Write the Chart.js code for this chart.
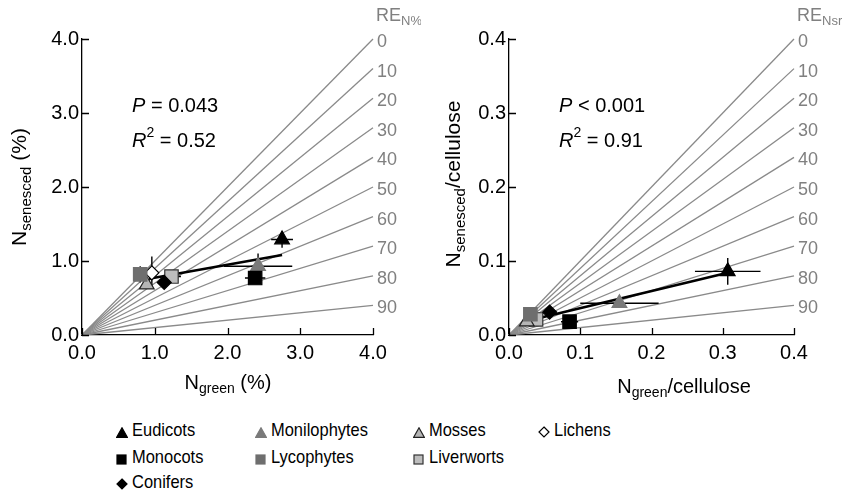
<!DOCTYPE html>
<html>
<head>
<meta charset="utf-8">
<script src="https://cdn.jsdelivr.net/npm/chart.js@4.4.0/dist/chart.umd.min.js"></script>
<style>
  body { margin: 0; background: #fff; width: 842px; height: 492px; position: relative; overflow: hidden;
         font-family: "Liberation Sans", Arial, sans-serif; }
  canvas { position: absolute; top: 0; }
  .lg-mark { position: absolute; }
  .lg-text { position: absolute; font-size: 18.5px; line-height: 20px; color: #000; white-space: nowrap;
             transform: scaleX(0.89); transform-origin: left center; }
</style>
</head>
<body>
<canvas id="pctChart" width="421" height="400" style="left:0"></canvas>
<canvas id="celChart" width="421" height="400" style="left:421px"></canvas>
<div id="legend"></div>
<script>
// Plant groups, in legend order (column by column)
const groups = ["Eudicots", "Monocots", "Conifers", "Monilophytes", "Lycophytes", "Mosses", "Liverworts", "Lichens"];
const reLevels = [0, 10, 20, 30, 40, 50, 60, 70, 80, 90];

// Left panel: N concentration (%)
const nGreenPct       = [2.75, 2.38, 1.13, 2.42, 0.80, 0.89, 1.23, 0.96];
const nSenescedPct    = [1.29, 0.77, 0.71, 0.93, 0.82, 0.68, 0.79, 0.84];
const nGreenPctErr    = [0.15, 0.14, 0.05, 0.47, 0.09, 0.04, 0.13, 0.05];
const nSenescedPctErr = [0.11, 0.04, 0.04, 0.17, 0.11, 0.05, 0.04, 0.22];
const fitPctX = [0.92, 2.75];
const fitPctY = [0.76, 1.08];

// Right panel: N / cellulose
const nGreenCel       = [0.307, 0.085, 0.057, 0.155, 0.030, 0.025, 0.038, 0.032];
const nSenescedCel    = [0.086, 0.018, 0.031, 0.043, 0.028, 0.018, 0.021, 0.025];
const nGreenCelErr    = [0.046, 0.012, 0.006, 0.055, 0.004, 0.003, 0.004, 0.004];
const nSenescedCelErr = [0.018, 0.003, 0.003, 0.004, 0.005, 0.003, 0.003, 0.004];
const fitCelX = [0.025, 0.307];
const fitCelY = [0.019, 0.084];

const FONT = '"Liberation Sans", Arial, sans-serif';

// marker look per group
const markers = [
  { shape: "triangle", r: 8.5, fill: "#000",    stroke: "#000" },
  { shape: "rect",     r: 9.5, fill: "#000",    stroke: "#000" },
  { shape: "rectRot",  r: 7,   fill: "#000",    stroke: "#000" },
  { shape: "triangle", r: 8.5, fill: "#7a7a7a", stroke: "#7a7a7a" },
  { shape: "rect",     r: 9.5, fill: "#6e6e6e", stroke: "#6e6e6e" },
  { shape: "triangle", r: 8.5, fill: "#b5b5b5", stroke: "#222" },
  { shape: "rect",     r: 9.5, fill: "#bdbdbd", stroke: "#333" },
  { shape: "rectRot",  r: 7,   fill: "#fff",    stroke: "#000" }
];

// draw text made of parts: [text, mode] where mode is "", "sub", "sup" or "i"
function drawRich(ctx, parts, x, y, size, align, color) {
  const fontFor = (m) => {
    const s = (m === "sub" || m === "sup") ? Math.round(size * 0.7) : size;
    return (m === "i" ? "italic " : "") + s + "px " + FONT;
  };
  let total = 0;
  parts.forEach(([t, m]) => { ctx.font = fontFor(m); total += ctx.measureText(t).width; });
  let cx = align === "center" ? x - total / 2 : x;
  ctx.save();
  ctx.fillStyle = color;
  ctx.textBaseline = "middle";
  ctx.textAlign = "left";
  parts.forEach(([t, m]) => {
    ctx.font = fontFor(m);
    const dy = m === "sub" ? size * 0.32 : (m === "sup" ? -size * 0.38 : 0);
    ctx.fillText(t, cx, y + dy);
    cx += ctx.measureText(t).width;
  });
  ctx.restore();
}

function makePanel(canvasId, o) {
  const datasets = [];
  groups.forEach((g, i) => {
    const m = markers[i];
    datasets.push({
      label: g,
      data: [{ x: o.xs[i], y: o.ys[i] }],
      pointStyle: m.shape, pointRadius: m.r,
      backgroundColor: m.fill, borderColor: m.stroke, borderWidth: 1.2,
      showLine: false
    });
  });
  datasets.push({
    id: "fit",
    label: "fit",
    data: o.fitX.map((x, k) => ({ x: x, y: o.fitY[k] })),
    showLine: true, borderColor: "#000", borderWidth: 2.6, pointRadius: 0
  });
  reLevels.forEach(re => {
    datasets.push({
      label: "RE " + re,
      re: re,
      data: [{ x: 0, y: 0 }, { x: o.max, y: o.max * (1 - re / 100) }],
      showLine: true, borderColor: "#8a8a8a", borderWidth: 1.3, pointRadius: 0, clip: false
    });
  });

  const decor = {
    id: "decor",
    beforeDatasetDraw(chart, args) {
      if (chart.data.datasets[args.index].id !== "fit") return;
      // error bars, drawn just under the fit line and markers
      const { ctx, scales: { x, y } } = chart;
      ctx.save();
      ctx.strokeStyle = "#000";
      ctx.lineWidth = 1.4;
      groups.forEach((g, i) => {
        const px = x.getPixelForValue(o.xs[i]), py = y.getPixelForValue(o.ys[i]);
        ctx.beginPath();
        ctx.moveTo(x.getPixelForValue(o.xs[i] - o.xErr[i]), py);
        ctx.lineTo(x.getPixelForValue(o.xs[i] + o.xErr[i]), py);
        ctx.moveTo(px, y.getPixelForValue(o.ys[i] - o.yErr[i]));
        ctx.lineTo(px, y.getPixelForValue(o.ys[i] + o.yErr[i]));
        ctx.stroke();
      });
      ctx.restore();
    },
    afterDraw(chart) {
      const { ctx, scales: { x, y } } = chart;
      // inward tick marks
      ctx.save();
      ctx.strokeStyle = "#000";
      ctx.lineWidth = 1.3;
      ctx.beginPath();
      x.ticks.forEach(t => {
        const px = Math.round(x.getPixelForValue(t.value)) + 0.5;
        ctx.moveTo(px, y.bottom); ctx.lineTo(px, y.bottom - 7);
      });
      y.ticks.forEach(t => {
        const py = Math.round(y.getPixelForValue(t.value)) + 0.5;
        ctx.moveTo(x.left, py); ctx.lineTo(x.left + 7, py);
      });
      ctx.stroke();
      ctx.restore();

      // RE labels at the ends of the guide lines
      chart.data.datasets.forEach(ds => {
        if (ds.re === undefined) return;
        const end = ds.data[1];
        drawRich(ctx, [[String(ds.re), ""]], x.getPixelForValue(end.x) + 4,
                 y.getPixelForValue(end.y) + 3, 18, "left", "#808080");
      });
      drawRich(ctx, [["RE", ""], [o.reSub, "sub"]], 376, 16, 18, "left", "#808080");

      // axis titles
      drawRich(ctx, o.xTitle, o.xTitlePos[0], o.xTitlePos[1], 20, "center", "#000");
      ctx.save();
      ctx.translate(o.yTitlePos[0], o.yTitlePos[1]);
      ctx.rotate(-Math.PI / 2);
      drawRich(ctx, o.yTitle, 0, 0, 21, "center", "#000");
      ctx.restore();

      // statistics
      drawRich(ctx, [["P", "i"], [o.pText, ""]], o.statX, 106, 20, "left", "#000");
      drawRich(ctx, [["R", "i"], ["2", "sup"], [o.r2Text, ""]], o.statX, 141, 20, "left", "#000");
    }
  };

  return new Chart(document.getElementById(canvasId), {
    type: "scatter",
    data: { datasets: datasets },
    options: {
      responsive: false,
      animation: false,
      events: [],
      layout: { padding: { left: 0, top: 39, right: 48, bottom: 0 } },
      plugins: { legend: { display: false }, tooltip: { enabled: false } },
      scales: {
        x: {
          type: "linear", min: 0, max: o.max,
          grid: { display: false, drawTicks: false },
          border: { color: "#000", width: 1.3 },
          ticks: { stepSize: o.step, padding: 6, color: "#000", font: { size: 20, family: FONT },
                   callback: v => v.toFixed(1) },
          afterFit: s => { s.height = 65; }
        },
        y: {
          type: "linear", min: 0, max: o.max,
          grid: { display: false, drawTicks: false },
          border: { color: "#000", width: 1.3 },
          ticks: { stepSize: o.step, padding: 3, color: "#000", font: { size: 20, family: FONT },
                   callback: v => v.toFixed(1) },
          afterFit: s => { s.width = o.yAxisWidth; }
        }
      }
    },
    plugins: [decor]
  });
}

makePanel("pctChart", {
  xs: nGreenPct, ys: nSenescedPct, xErr: nGreenPctErr, yErr: nSenescedPctErr,
  fitX: fitPctX, fitY: fitPctY, max: 4, step: 1, yAxisWidth: 82,
  reSub: "N%",
  xTitle: [["N", ""], ["green", "sub"], [" (%)", ""]], xTitlePos: [228, 383],
  yTitle: [["N", ""], ["senesced", "sub"], [" (%)", ""]], yTitlePos: [20, 187],
  statX: 132, pText: " = 0.043", r2Text: " = 0.52"
});

makePanel("celChart", {
  xs: nGreenCel, ys: nSenescedCel, xErr: nGreenCelErr, yErr: nSenescedCelErr,
  fitX: fitCelX, fitY: fitCelY, max: 0.4, step: 0.1, yAxisWidth: 88,
  reSub: "Nsr",
  xTitle: [["N", ""], ["green", "sub"], ["/cellulose", ""]], xTitlePos: [263, 387],
  yTitle: [["N", ""], ["senesced", "sub"], ["/cellulose", ""]], yTitlePos: [33, 184],
  statX: 138, pText: " < 0.001", r2Text: " = 0.91"
});

// Legend below the panels
const legendCols = [116, 255, 413, 538];
const legendRows = [430, 457, 482];
const legendSlots = [[0, 0], [0, 1], [0, 2], [1, 0], [1, 1], [2, 0], [2, 1], [3, 0]];

function markerSvg(m) {
  const sw = 1.2;
  if (m.shape === "triangle")
    return '<svg width="12" height="11"><polygon points="6,0.8 11.3,10.3 0.7,10.3" fill="' + m.fill +
           '" stroke="' + m.stroke + '" stroke-width="' + sw + '"/></svg>';
  if (m.shape === "rect")
    return '<svg width="11" height="11"><rect x="1" y="1" width="9" height="9" fill="' + m.fill +
           '" stroke="' + m.stroke + '" stroke-width="' + sw + '"/></svg>';
  return '<svg width="12" height="12"><polygon points="6,1 11,6 6,11 1,6" fill="' + m.fill +
         '" stroke="' + m.stroke + '" stroke-width="' + sw + '"/></svg>';
}

const legendEl = document.getElementById("legend");
groups.forEach((g, i) => {
  const [c, r] = legendSlots[i];
  const x = legendCols[c], yc = legendRows[r];
  const mk = document.createElement("div");
  mk.className = "lg-mark";
  mk.style.left = x + "px";
  mk.style.top = (yc - 6) + "px";
  mk.innerHTML = markerSvg(markers[i]);
  legendEl.appendChild(mk);
  const tx = document.createElement("div");
  tx.className = "lg-text";
  tx.style.left = (x + 16) + "px";
  tx.style.top = (yc - 10) + "px";
  tx.textContent = g;
  legendEl.appendChild(tx);
});
</script>
</body>
</html>
